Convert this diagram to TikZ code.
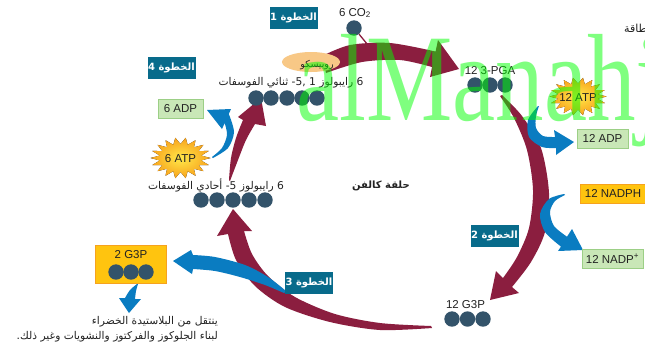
\documentclass[tikz,border=0pt]{standalone}
\usepackage{fontspec}
\usepackage{graphicx}
\setmainfont{Liberation Sans}
\newfontfamily\arabicfont[Script=Arabic]{DejaVu Sans}
\newfontfamily\wmfont{Liberation Serif}
\TeXXeTstate=1
\newcommand{\AR}[1]{{\arabicfont\beginR #1\endR}}
\definecolor{cred}{HTML}{8B1E3F}
\definecolor{cblue}{HTML}{0A7CC1}
\definecolor{cteal}{HTML}{086B8B}
\definecolor{cdot}{HTML}{33536A}
\definecolor{cgreenF}{HTML}{C9E7B7}
\definecolor{cgreenD}{HTML}{9CCF86}
\definecolor{corangeF}{HTML}{FFC40F}
\definecolor{corangeD}{HTML}{F6A21E}
\definecolor{crubisco}{HTML}{F8C886}
\definecolor{cstarin}{HTML}{FFE94A}
\definecolor{cstarout}{HTML}{F8A21C}
\definecolor{ctext}{HTML}{222222}
\begin{document}
\begin{tikzpicture}[x=1pt,y=-1pt,
  font=\fontsize{11.5}{13}\selectfont, text=ctext,
  stepbox/.style={fill=cteal, text=white, minimum width=48pt, minimum height=22pt, inner sep=0pt,
     font=\arabicfont\bfseries\fontsize{10}{11}\selectfont},
  ball/.style={circle, fill=cdot, minimum size=15.4pt, inner sep=0pt},
  gbox/.style={fill=cgreenF, draw=cgreenD, line width=1pt, inner sep=0pt, minimum height=19pt},
  obox/.style={fill=corangeF, draw=corangeD, line width=1pt, inner sep=0pt},
  artext/.style={font=\arabicfont\fontsize{10.7}{12}\selectfont, inner sep=0pt},
  lbl/.style={inner sep=0pt},
  redarrow/.style={fill=cred},
  bluearrow/.style={fill=cblue},
  star/.style={shade, inner color=cstarin, outer color=cstarout}]
\useasboundingbox (0,0) rectangle (645,349);
\clip (0,0) rectangle (645,349);
\fill[white] (0,0) rectangle (645,349);

% ---------- red (Calvin) arrows ----------
% step 1: CO2 fixation -> 3-PGA
\fill[redarrow] plot[smooth] coordinates {(322,56) (350,45) (390,43) (435.6,51.5)}
  -- (438,40) -- (459,69) -- (430,77) --
  plot[smooth] coordinates {(432,67) (400,60) (362,62) (326,73)} -- cycle;
% step 2: 3-PGA -> G3P
\fill[redarrow] plot[smooth] coordinates {(500,96) (514,118) (527,150) (533,190) (529,228) (517,257) (503,278)}
  -- (496,271) -- (490,300) -- (519,293) --
  plot[smooth] coordinates {(512,287) (531,262) (545,232) (549,193) (541,148) (522,116) (502,95)} -- cycle;
% step 3: G3P -> ribulose monophosphate
\fill[redarrow] (233,209) -- (252,231) --
  plot[smooth] coordinates {(244,231) (252,254) (268,276) (295,297) (335,314) (380,323) (431,326)} --
  plot[smooth] coordinates {(432,328) (380,330) (330,322) (285,307) (255,286) (236,260) (228,234)}
  -- (217,236) -- cycle;
% step 4: monophosphate -> bisphosphate
\fill[redarrow] plot[smooth] coordinates {(229,180) (231,158) (236,138) (243,120)}
  -- (238,117) -- (261,98) -- (266,126) --
  plot[smooth] coordinates {(255,124) (246,140) (238,160) (230,181)} -- cycle;

% ---------- blue arrows ----------
\fill[bluearrow] plot[smooth] coordinates {(213,158) (228,148) (234,132) (228.8,114)}
  -- (231,109) -- (207,110) -- (222,129) --
  plot[smooth] coordinates {(224.7,123) (227,135) (222,148) (212,157)} -- cycle;
\fill[bluearrow] plot[smooth] coordinates {(538,106) (528,120) (529,137) (542,147) (556,148)}
  -- (556,155) -- (574,142) -- (554,130) --
  plot[smooth] coordinates {(555,137) (543,136) (536,128) (536,116) (539,106)} -- cycle;
\fill[bluearrow] plot[smooth] coordinates {(564,194) (549,199) (540,214) (545,232) (561,246.6)}
  -- (558,251) -- (583,250) -- (572,229) --
  plot[smooth] coordinates {(567,236.7) (554,226) (550,212) (555,201) (565,195)} -- cycle;
\fill[bluearrow] plot[smooth] coordinates {(193,255) (215,257) (245,265) (268,277) (286,291)} --
  plot[smooth] coordinates {(284,293) (265,285) (240,277) (215,271) (193,269)}
  -- (192,274) -- (173,261) -- (191,250) -- cycle;
\fill[bluearrow] plot[smooth] coordinates {(137,284) (130,290) (125,298)}
  -- (119,298) -- (129,313) -- (141,299) --
  plot[smooth] coordinates {(135,299) (136,291) (138,284)} -- cycle;

% ---------- CO2 ----------
\node[lbl] (co2t) at (355,13) {6 CO\textsubscript{2}};
\node[ball] (co2) at (354,28) {};
\coordinate (co2in) at (372,50);
\draw[cred, line width=1.3pt] (co2) -- (co2in);

% ---------- rubisco ----------
\fill[crubisco] (311,62) ellipse [x radius=29, y radius=10];
\node[artext, font=\arabicfont\fontsize{9.5}{11}\selectfont] (rub) at (317,65) {\AR{روبيسكو}};

% ---------- steps ----------
\node[stepbox] (s1) at (293.5,17.5) {\AR{الخطوة 1}};
\node[stepbox] (s4) at (171.5,67.5) {\AR{الخطوة 4}};
\node[stepbox] (s2) at (494.5,236) {\AR{الخطوة 2}};
\node[stepbox] (s3) at (309,283) {\AR{الخطوة 3}};

% ---------- molecules ----------
\node[artext] (rubp) at (291,83) {\AR{6 رايبولوز 1 ,5- ثنائي الفوسفات}};
\foreach \x [count=\i] in {256,271,287,302,317} \node[ball] (rb\i) at (\x,98) {};
\node[artext] (rump) at (216,185) {\AR{6 رايبولوز 5- أحادي الفوسفات}};
\foreach \x [count=\i] in {201,217,233,249,265} \node[ball] (rm\i) at (\x,200) {};
\node[lbl] (pgat) at (490,71) {12 3-PGA};
\foreach \x [count=\i] in {475,490,505} \node[ball] (pg\i) at (\x,85) {};
\node[lbl] (g12t) at (465.5,305) {12 G3P};
\foreach \x [count=\i] in {452,467.5,483} \node[ball] (g\i) at (\x,319) {};

\node[obox, minimum width=71pt, minimum height=38pt] (g2box) at (130.5,264) {};
\node[lbl] (g2t) at (131,255) {2 G3P};
\foreach \x [count=\i] in {116,131,146} \node[ball] (gg\i) at (\x,272) {};

\node[artext, anchor=east] (out1) at (218,322) {\AR{ينتقل من البلاستيدة الخضراء}};
\node[artext, anchor=east] (out2) at (218,337) {\AR{لبناء الجلوكوز والفركتوز والنشويات وغير ذلك.}};

\node[artext, font=\arabicfont\bfseries\fontsize{10}{12}\selectfont] (calvin) at (381,186) {\AR{حلقة كالفن}};
\node[artext, anchor=west, font=\arabicfont\fontsize{11}{12}\selectfont] (energy) at (624,28) {\AR{الطاقة}};

% ---------- energy carriers ----------
\fill[star] plot[samples at={0,...,35}, variable=\i]
  ({180.5+(mod(\i,2)==0 ? 30 : 21)*cos(\i*10)}, {158+(mod(\i,2)==0 ? 20.5 : 14)*sin(\i*10)}) -- cycle;
\node[lbl] (atp6) at (180.5,159) {6 ATP};
\fill[star] plot[samples at={0,...,35}, variable=\i]
  ({578+(mod(\i,2)==0 ? 28.5 : 20)*cos(\i*10)}, {96.5+(mod(\i,2)==0 ? 19 : 13)*sin(\i*10)}) -- cycle;
\node[lbl] (atp12) at (578,97) {12 ATP};

\node[gbox, minimum width=45pt] (adp6) at (180.5,108.5) {6 ADP};
\node[gbox, minimum width=51pt] (adp12) at (602.5,138.5) {12 ADP};
\node[obox, minimum width=66pt, minimum height=19pt] (nadph) at (613,193.5) {12 NADPH};
\node[gbox, minimum width=61pt] (nadp) at (612.5,258.5) {12 NADP\textsuperscript{+}};

% ---------- watermark ----------
\node[anchor=base west, inner sep=0pt, text=green, opacity=0.5,
  font=\wmfont\fontsize{97}{97}\selectfont] (wm) at (296,120) {\scalebox{1}[1.28]{alManahj}};
\end{tikzpicture}
\end{document}
